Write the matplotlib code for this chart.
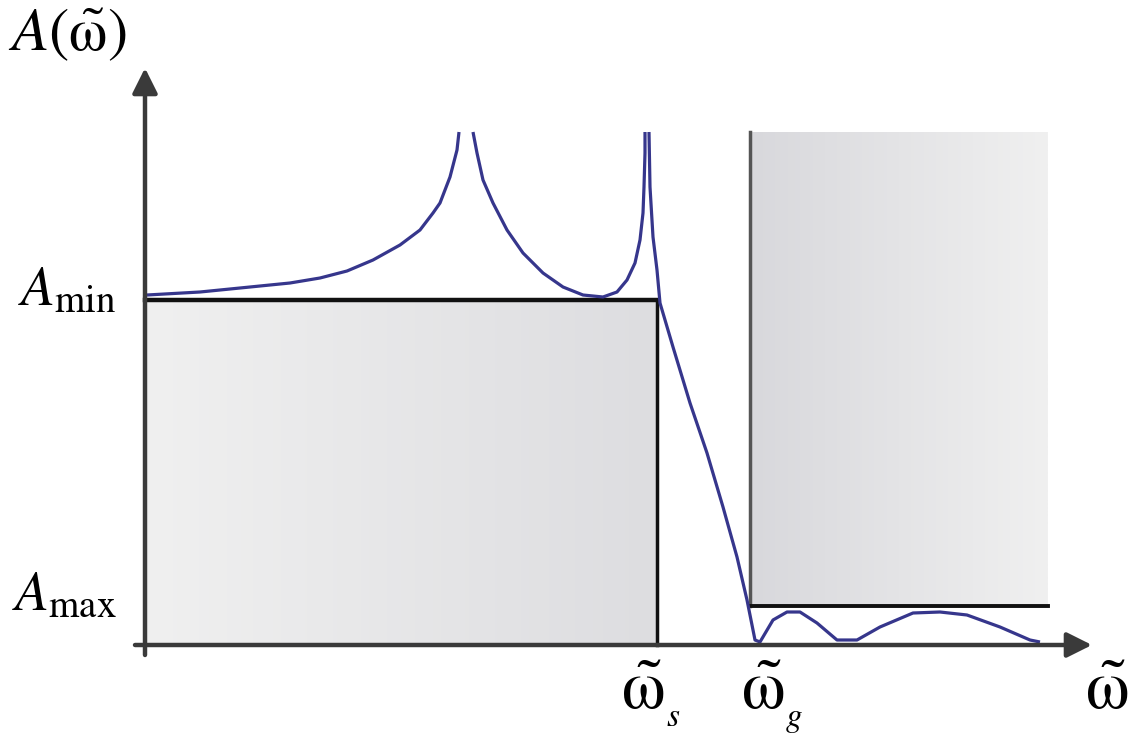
import numpy as np
import matplotlib
matplotlib.use("Agg")
from matplotlib import pyplot as plt
from matplotlib.colors import LinearSegmentedColormap

# Times-like math letters (STIX ships with matplotlib)
plt.rcParams['mathtext.fontset'] = 'stix'
plt.rcParams['font.family'] = ['STIXGeneral', 'DejaVu Serif']

# frequency axis (x) and attenuation (y), origin at the axes crossing
w_s = 512          # end of pass band
w_g = 605          # start of stop band
w_end = 903        # right end of the stop band box
A_min = 345
A_max = 39
A_top = 513        # top of the stop band box / clip of the peaks

# attenuation curve, NaN where the poles leave the picture
curve_w = [2, 55, 105, 145, 175, 202, 228, 255, 275, 288, 295, 305, 312, 314, np.nan,
           328, 332, 338, 348, 362, 378, 398, 418, 438, 458, 472, 482, 490, 495,
           498, 499, 500, 500, np.nan,
           504, 505, 508, 512, 515, 528, 545, 562, 578, 592, 602, 610, 615,
           628, 642, 655, 672, 692, 712, 735, 768, 795, 822, 855, 885, 895]
curve_A = [350, 353, 358, 362, 367, 374, 385, 400, 415, 432, 442, 468, 495, 513, np.nan,
           513, 492, 465, 442, 415, 392, 372, 358, 350, 348, 353, 365, 382, 405,
           432, 458, 492, 513, np.nan,
           513, 458, 408, 375, 342, 298, 242, 192, 138, 88, 45, 5, 3,
           25, 33, 33, 22, 5, 5, 18, 32, 33, 30, 18, 5, 3]

fig = plt.figure(figsize=(11.28, 7.35), dpi=100)
ax = fig.add_axes([0, 0, 1, 1])
ax.set_xlim(-145, 983)
ax.set_ylim(-90, 645)
ax.axis('off')

# shaded tolerance boxes
grad = np.linspace(0, 1, 256)[np.newaxis, :]
pass_cmap = LinearSegmentedColormap.from_list('p', ['#f0f0f0', '#dddde0'])
stop_cmap = LinearSegmentedColormap.from_list('s', ['#d8d8dc', '#f0f0f0'])
ax.imshow(grad, cmap=pass_cmap, extent=[0, w_s, 0, A_min], aspect='auto', zorder=1)
ax.imshow(grad, cmap=stop_cmap, extent=[w_g, w_end, A_max, A_top], aspect='auto', zorder=1)

ax.plot([0, w_s], [A_min, A_min], color='#111111', lw=3.2, zorder=2)
ax.plot([w_s, w_s], [0, A_min], color='#111111', lw=2.5, zorder=2)
ax.plot([w_g, w_g], [A_max, A_top], color='#555555', lw=2.5, zorder=2)
ax.plot([w_g, w_end], [A_max, A_max], color='#111111', lw=2.8, zorder=2)

ax.plot(curve_w, curve_A, color='#36368c', lw=2.3, zorder=3,
        solid_joinstyle='round', solid_capstyle='butt')

# axes with arrows
ax.annotate('', xy=(947, 0), xytext=(-10, 0),
            arrowprops=dict(arrowstyle='-|>', lw=3.2, color='#3a3a3a',
                            mutation_scale=38, shrinkA=0, shrinkB=0), zorder=4)
ax.annotate('', xy=(0, 577), xytext=(0, -10),
            arrowprops=dict(arrowstyle='-|>', lw=3.2, color='#3a3a3a',
                            mutation_scale=38, shrinkA=0, shrinkB=0), zorder=4)

# labels
om = r'$\tilde{\mathrm{\omega}}$'
ax.text(-137, 610, r'$A(\tilde{\mathrm{\omega}})$', fontsize=44, ha='left', va='center')
ax.text(-28, 353, r'$A_{\mathrm{min}}$', fontsize=40, ha='right', va='center')
ax.text(-28, 49, r'$A_{\mathrm{max}}$', fontsize=40, ha='right', va='center')
ax.text(476, -48, om, fontsize=50, ha='left', va='center')
ax.text(521, -81, 's', fontsize=24, style='italic', ha='left', va='baseline')
ax.text(596, -48, om, fontsize=50, ha='left', va='center')
ax.text(641, -81, 'g', fontsize=24, style='italic', ha='left', va='baseline')
ax.text(983, -48, om, fontsize=50, ha='right', va='center')

fig.savefig('out.png', dpi=100)
